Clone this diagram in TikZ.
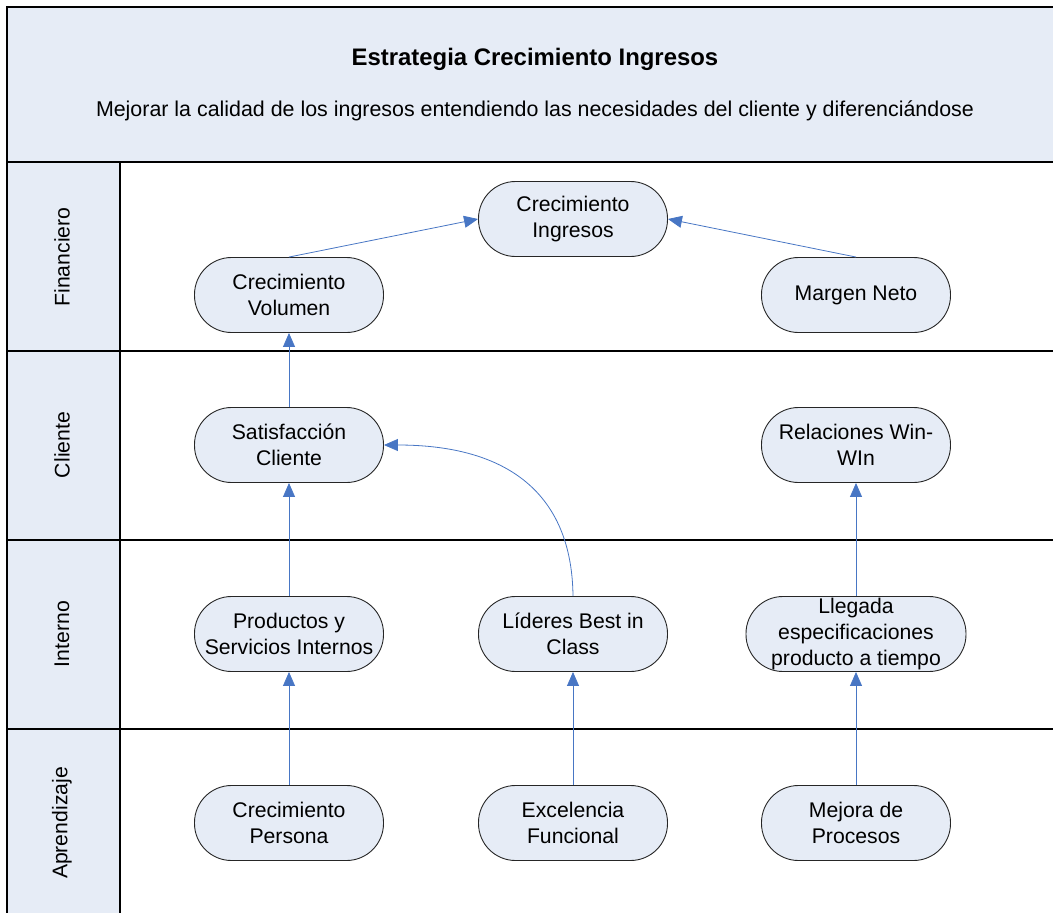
\documentclass[tikz,border=0pt]{standalone}
\usepackage{fontspec}
\setmainfont{Liberation Sans}
\usetikzlibrary{arrows.meta}
\definecolor{paleblue}{RGB}{230,236,246}
\definecolor{linkblue}{RGB}{72,118,196}
\begin{document}
\begin{tikzpicture}[x=1pt,y=-1pt,
  pill/.style={draw=black!85,line width=0.9pt,fill=paleblue,rectangle,
    rounded corners=37pt,minimum width=189pt,minimum height=75pt,inner sep=0pt,
    align=center,font=\fontsize{21.2}{26}\selectfont},
  lane/.style={rotate=90,font=\fontsize{21.2}{26}\selectfont},
  link/.style={draw=linkblue,line width=0.8pt,-{Triangle[length=14pt,width=12pt]}},
  rule/.style={draw=black,line width=1.3pt}]
\useasboundingbox (0,0) rectangle (1053,913);
% header band and lane label column
\fill[paleblue] (7,7) rectangle (1053,162);
\fill[paleblue] (7,162) rectangle (120,913);
\node[font=\bfseries\fontsize{23.9}{28}\selectfont] (title) at (535,59) {Estrategia Crecimiento Ingresos};
\node[font=\fontsize{21.4}{26}\selectfont] (sub) at (535,111) {Mejorar la calidad de los ingresos entendiendo las necesidades del cliente y diferenciándose};
% frame and lane separators
\draw[rule] (1053,7) -- (7,7) -- (7,913);
\foreach \yy in {162,351,540,729} \draw[rule] (7,\yy) -- (1053,\yy);
\draw[rule] (120,162) -- (120,913);
% lane names
\node[lane] (l1) at (62,257) {Financiero};
\node[lane] (l2) at (62,445) {Cliente};
\node[lane] (l3) at (62,634) {Interno};
\node[lane] (l4) at (62,823) {Aprendizaje};
% objectives
\node[pill] (ci) at (573,219) {Crecimiento\\Ingresos};
\node[pill] (cv) at (289,295) {Crecimiento\\Volumen};
\node[pill] (mn) at (856,295) {Margen Neto};
\node[pill] (sc) at (289,445) {Satisfacción\\Cliente};
\node[pill] (rw) at (856,445) {Relaciones Win-\\WIn};
\node[pill] (ps) at (289,634) {Productos y\\Servicios Internos};
\node[pill] (lb) at (573,634) {Líderes Best in\\Class};
\node[pill,minimum width=220pt] (le) at (856,634) {Llegada\\especificaciones\\producto a tiempo};
\node[pill] (cp) at (289,823) {Crecimiento\\Persona};
\node[pill] (ef) at (573,823) {Excelencia\\Funcional};
\node[pill] (mp) at (856,823) {Mejora de\\Procesos};
% cause-effect links
\draw[link] (cv.north) -- (ci.west);
\draw[link] (mn.north) -- (ci.east);
\draw[link] (sc.north) -- (cv.south);
\draw[link] (ps.north) -- (sc.south);
\draw[link] (lb.north) .. controls (572,500) and (515,445) .. (sc.east);
\draw[link] (le.north) -- (rw.south);
\draw[link] (cp.north) -- (ps.south);
\draw[link] (ef.north) -- (lb.south);
\draw[link] (mp.north) -- (le.south);
\end{tikzpicture}
\end{document}
